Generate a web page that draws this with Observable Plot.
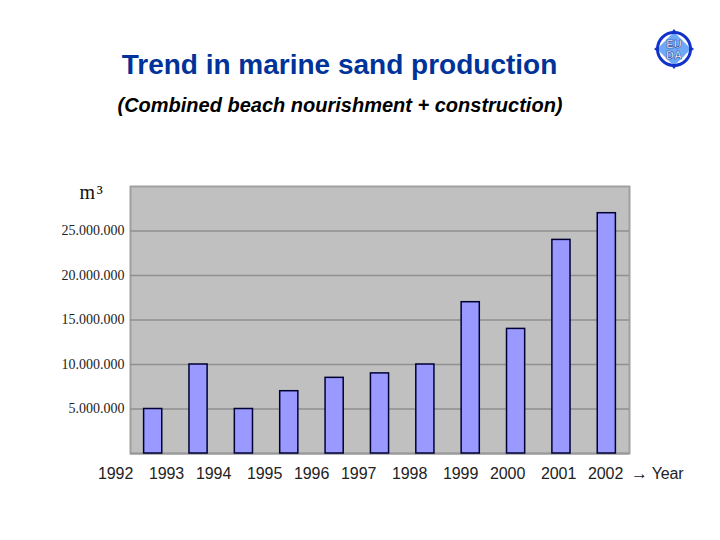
<!DOCTYPE html>
<html>
<head>
<meta charset="utf-8">
<script src="https://cdn.jsdelivr.net/npm/d3@7"></script>
<script src="https://cdn.jsdelivr.net/npm/@observablehq/plot@0.6"></script>
<style>
html,body{margin:0;padding:0;background:#fff;}
#page{position:relative;width:720px;height:540px;overflow:hidden;font-family:"Liberation Sans",Arial,sans-serif;}
#title{position:absolute;left:0;width:679px;top:48px;text-align:center;font-size:28px;line-height:34px;font-weight:bold;color:#003399;}
#subtitle{position:absolute;left:0;width:680px;top:92px;text-align:center;font-size:20px;line-height:26px;font-weight:bold;font-style:italic;color:#000;}
#chart{position:absolute;left:0;top:130px;}
#xlabels{position:absolute;left:98px;top:464px;white-space:pre;font-size:16px;letter-spacing:-0.1px;word-spacing:-0.4px;line-height:20px;color:#222;}
#xlabels span{font-size:17px;line-height:0;}
#logo{position:absolute;left:652px;top:27px;}
</style>
</head>
<body>
<div id="page">
  <div id="title">Trend in marine sand production</div>
  <div id="subtitle">(Combined beach nourishment + construction)</div>
  <div id="chart"></div>
  <div id="xlabels"></div>
  <svg id="logo" width="44" height="44" viewBox="0 0 44 44">
    <circle cx="22" cy="22" r="16.5" fill="#fff" stroke="#1133cc" stroke-width="3"/>
    <path d="M22 5L39 22L22 39L5 22Z" fill="#6fa8f5"/>
    <path d="M22 2L26 7L18 7ZM42 22L37 26L37 18ZM22 42L18 37L26 37ZM2 22L7 18L7 26Z" fill="#1133cc"/>
    <text x="22" y="21" text-anchor="middle" font-family="Liberation Sans" font-weight="bold" font-size="11" fill="#fff" stroke="#003399" stroke-width=".5">EU</text>
    <text x="22" y="32" text-anchor="middle" font-family="Liberation Sans" font-weight="bold" font-size="11" fill="#fff" stroke="#003399" stroke-width=".5">DA</text>
  </svg>
</div>
<script>
const years = ["1992","1993","1994","1995","1996","1997","1998","1999","2000","2001","2002"];
const production = [5000000,10000000,5000000,7000000,8500000,9000000,10000000,17000000,14000000,24000000,27000000];
const yTicks = [5000000,10000000,15000000,20000000,25000000];
const labelGaps = [4,3,4,3,3,4,4,3,4,3,2];
const axisArrow = "\u2192";
const axisName = " Year";

const rows = years.map((year,i)=>({year,value:production[i]}));
const fmt = v => d3.format(",")(v).replace(/,/g,".");

const plot = Plot.plot({
  width:720,
  height:340,
  marginTop:56,
  marginBottom:17,
  marginLeft:130,
  marginRight:91,
  style:{background:"transparent"},
  x:{domain:years,paddingInner:0.6,paddingOuter:0.3,round:false,axis:null},
  y:{domain:[0,30000000],round:false},
  marks:[
    Plot.frame({fill:"#c0c0c0",stroke:"#a0a0a0",strokeWidth:2}),
    Plot.gridY(yTicks,{stroke:"#8f8f8f",strokeWidth:1.6,strokeOpacity:1}),
    Plot.axisY({
      ticks:yTicks,
      tickSize:0,
      tickPadding:6,
      tickFormat:fmt,
      fontSize:14,
      fontFamily:"Liberation Serif",
      fill:"#222",
      label:null
    }),
    Plot.ruleY([0],{stroke:"#999",strokeWidth:2}),
    Plot.barY(rows,{x:"year",y:"value",fill:"#9999ff",stroke:"#000033",strokeWidth:1.5}),
    Plot.text(["m\u200a\u00b3"],{frameAnchor:"top-left",dx:-51,dy:-2,text:d=>d,fontSize:20,fontFamily:"Liberation Serif",fill:"#111",textAnchor:"start"})
  ]
});
document.getElementById("chart").appendChild(plot);
const xl = document.getElementById("xlabels");
xl.textContent = years.map((y,i)=>y+" ".repeat(labelGaps[i])).join("");
const arrow = document.createElement("span");
arrow.textContent = axisArrow;
xl.appendChild(arrow);
xl.appendChild(document.createTextNode(axisName));
</script>
</body>
</html>
